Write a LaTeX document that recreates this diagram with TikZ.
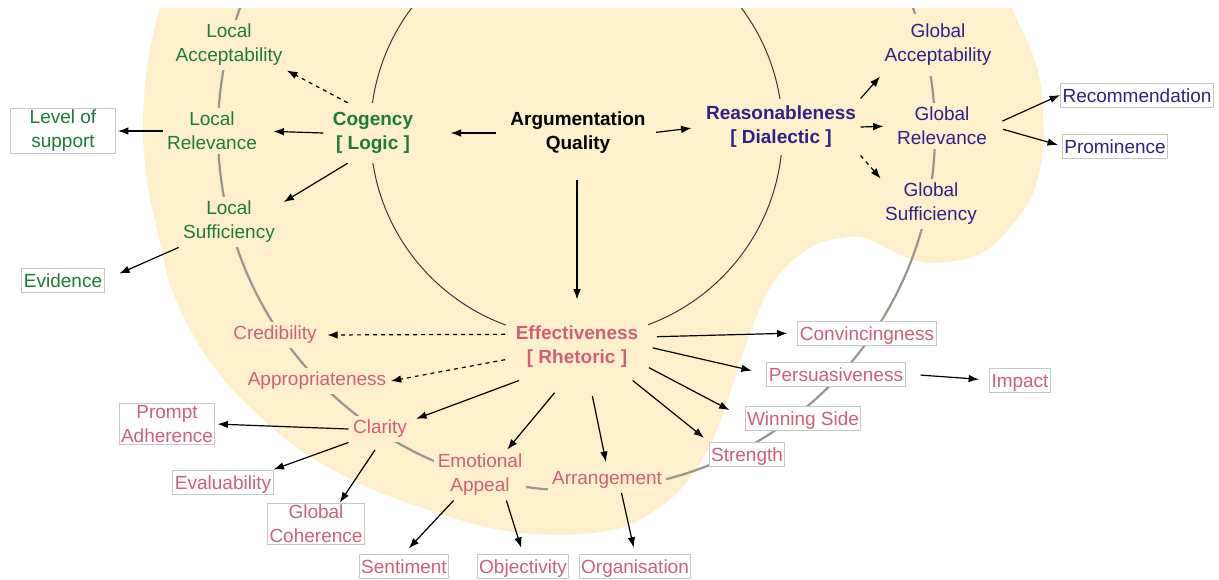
\documentclass[tikz,border=0pt]{standalone}
\usepackage{fontspec}
\setmainfont{Liberation Sans}
\usetikzlibrary{arrows.meta}

\definecolor{blob}{RGB}{255,240,204}
\definecolor{cgreen}{RGB}{30,123,53}
\definecolor{rpurple}{RGB}{46,34,137}
\definecolor{epink}{RGB}{208,95,120}
\definecolor{ring}{RGB}{155,150,140}

\begin{document}
\begin{tikzpicture}
	[x=0.5pt, y=-0.5pt, >={Latex[length=5.2pt,width=3.8pt]}, line width=0.6pt,
	every node/.style={font=\fontsize{9.5}{12}\selectfont, align=center},
	head/.style={font=\fontsize{9.5}{12}\selectfont\bfseries},
	dim/.style={fill=blob, inner sep=2pt},
	box/.style={draw=black!22, fill=white, line width=0.5pt, inner sep=1pt, minimum height=12pt},
	line/.style={text height=8.5pt, text depth=1.5pt},
	weak/.style={dashed, dash pattern=on 2pt off 2pt}]
\useasboundingbox (0,0) rectangle (1219,579);

\begin{scope}
\clip (0,8) rectangle (1219,579);
\fill[blob] plot[smooth cycle, tension=0.6] coordinates {
	(175,-40) (160,7) (147,67) (143,130) (148,187) (158,233) (172,290)
	(200,347) (233,390) (267,423) (300,450) (333,470) (367,487) (400,500)
	(450,517) (500,530) (553,535) (600,532) (633,523) (673,497) (700,463)
	(720,423) (733,383) (750,333) (767,293) (785,268) (813,246) (847,237)
	(868,239) (897,253) (930,263) (980,254) (1013,224) (1033,193)
	(1043,150) (1043,117) (1037,67) (1013,10) (995,-40) (580,-90)};
\draw[ring, line width=1.1pt] (576.5,132) circle[radius=358.5];
\draw[black!78, line width=0.5pt] (576.5,131.5) circle[radius=206];
\end{scope}

\node[dim,head] (aq) at (578,133) {Argumentation\\Quality};
\node[dim,head,text=cgreen,inner sep=4.5pt] (cog) at (373,133) {Cogency\\{[} Logic ]};
\node[dim,head,text=rpurple,inner xsep=2pt,inner ysep=3.5pt] (rea) at (781,127) {Reasonableness\\{[} Dialectic ]};
\node[dim,head,text=epink,inner xsep=5pt,inner ysep=6pt] (eff) at (577,347) {Effectiveness\\{[} Rhetoric ]};

% logic
\node[dim,text=cgreen] (l_acc) at (229,45) {Local\\Acceptability};
\node[dim,text=cgreen] (l_rel) at (212,131) {Local\\Relevance};
\node[dim,text=cgreen] (l_suf) at (229,222) {Local\\Sufficiency};
\node[box,text=cgreen,minimum width=52.5pt] (support) at (63,131) {Level of\\support};
\node[box,line,text=cgreen] (evidence) at (63,280) {Evidence};

% dialectic
\node[dim,text=rpurple,inner ysep=5pt] (g_acc) at (938,45) {Global\\Acceptability};
\node[dim,text=rpurple] (g_rel) at (942,126) {Global\\Relevance};
\node[dim,text=rpurple] (g_suf) at (931,204) {Global\\Sufficiency};
\node[box,line,text=rpurple] (recomm) at (1137,95) {Recommendation};
\node[box,line,text=rpurple] (prom) at (1115,146) {Prominence};

% rhetoric
\node[dim,text=epink] (cred) at (275,335) {Credibility};
\node[dim,text=epink] (appr) at (317,381) {Appropriateness};
\node[dim,text=epink] (clar) at (380,429) {Clarity};
\node[dim,text=epink] (emo) at (480,475) {Emotional\\Appeal};
\node[dim,text=epink] (arr) at (607,480) {Arrangement};
\node[box,text=epink] (prompt) at (167,424) {Prompt\\Adherence};
\node[box,line,text=epink] (evalu) at (223,482) {Evaluability};
\node[box,text=epink] (coher) at (316,524) {Global\\Coherence};
\node[box,line,text=epink] (sent) at (404,566) {Sentiment};
\node[box,line,text=epink] (objec) at (523,566) {Objectivity};
\node[box,line,text=epink] (organ) at (635,566) {Organisation};
\node[box,line,text=epink] (stren) at (747,454) {Strength};
\node[box,line,text=epink] (winning) at (803,418) {Winning Side};
\node[box,line,text=epink] (persu) at (836,374) {Persuasiveness};
\node[box,line,text=epink] (convin) at (867,333) {Convincingness};
\node[box,line,text=epink] (impact) at (1020,380) {Impact};

\path[->]
	(aq.west) edge[shorten <=5pt, shorten >=14pt] (cog.east)
	(aq.east) edge[shorten <=3pt, shorten >=5pt] (rea.west)
	(eff.north |- aq.south) edge[shorten <=11pt, shorten >=7pt] (eff.north)
	(cog.130) edge[weak] (l_acc.south east)
	(cog.west) edge[shorten >=6pt] (l_rel.east)
	(cog.230) edge[shorten >=2.5pt] (l_suf.19)
	(l_rel.west) edge[shorten >=1pt] (support.east)
	(l_suf.south west) edge[shorten >=8pt] (evidence.east)
	(rea.north east) edge (g_acc.south west)
	(rea.east) edge[shorten >=4.5pt] (g_rel.west)
	(rea.south east) edge[weak] (g_suf.north west)
	(g_rel.east) edge[shorten <=6pt] (recomm.west)
	(g_rel.east) edge[shorten <=6pt, shorten >=2pt] (prom.west)
	(eff.170) edge[weak, shorten >=3pt] (cred.east)
	(eff.190) edge[weak] (appr.east)
	(eff.210) edge[shorten >=2.5pt] (clar.15)
	(eff.250) edge[shorten <=8pt] (emo.43)
	(eff.290) edge[shorten <=8pt, shorten >=2.5pt] (arr.north)
	(eff.329) edge[shorten >=3pt] (stren.north west)
	(eff.344) edge[shorten >=8.5pt] (winning.west)
	(eff.east) edge[shorten <=2pt, shorten >=7.5pt] (persu.west)
	(eff.8) edge[shorten <=4pt, shorten >=5pt] (convin.west)
	(persu.east) edge[shorten <=7.5pt, shorten >=5pt] (impact.west)
	(clar.west) edge[shorten >=1pt] (prompt.east)
	(clar.south west) edge (evalu.north east)
	(clar.south) edge[shorten <=4.5pt] (coher.42)
	(emo.224) edge[shorten >=3.5pt] (sent.north)
	(emo.316) edge[shorten >=3pt] (objec.north)
	(arr.318) edge[shorten >=3pt] (organ.north);

\end{tikzpicture}
\end{document}
